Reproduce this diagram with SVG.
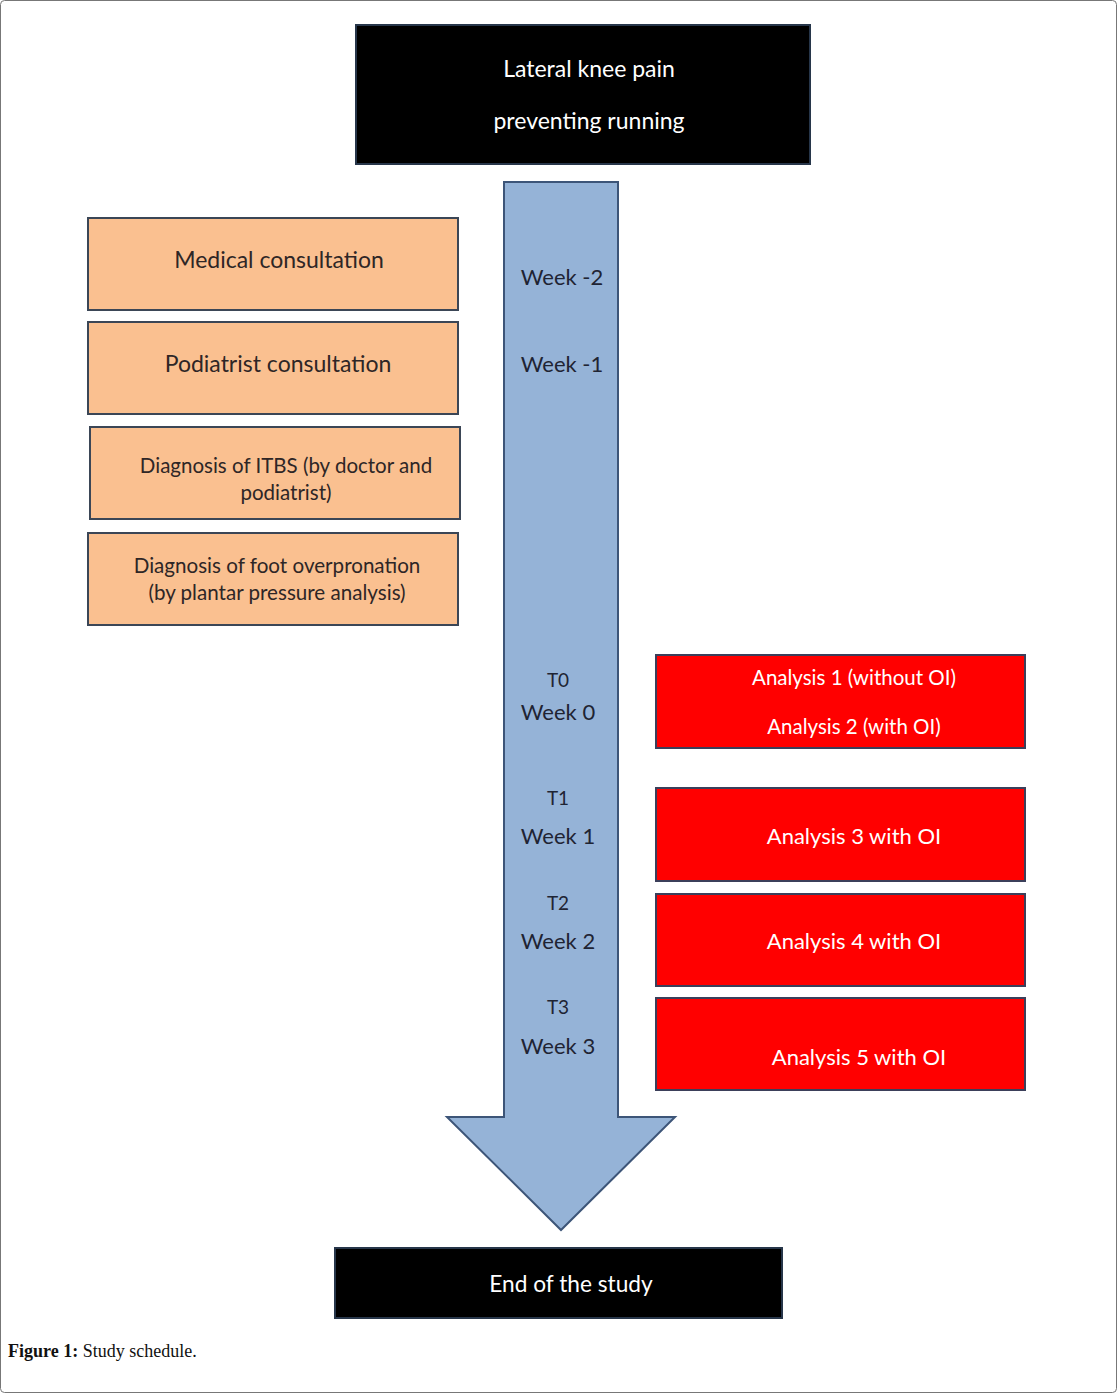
<svg xmlns="http://www.w3.org/2000/svg" width="1117" height="1394" viewBox="0 0 1117 1394">
<style>
.blk{fill:#000;stroke:#27364a;stroke-width:2}
.org{fill:#fac090;stroke:#3b4656;stroke-width:2}
.red{fill:#ff0000;stroke:#3b3f5a;stroke-width:2}
.t{font-family:Lato,"Open Sans",sans-serif;text-anchor:middle}
.w{fill:#ffffff}
.d{fill:#2e2626}
.a{fill:#1f2433}
</style>
<rect x="0.5" y="0.5" width="1116" height="1392" rx="4" fill="#fff" stroke="#777" stroke-width="1"/>
<g id="connectors">
<path id="timeline-arrow" d="M504,182 L618,182 L618,1117 L675,1117 L561,1230 L447,1117 L504,1117 Z" fill="#95b3d7" stroke="#3d5578" stroke-width="2"/>
</g>
<g id="start">
<rect class="blk" x="356" y="25" width="454" height="139"/>
<text class="t w" x="589" y="77" font-size="23">Lateral knee pain</text>
<text class="t w" x="589" y="129" font-size="23">preventing running</text>
</g>
<g id="medical">
<rect class="org" x="88" y="218" width="370" height="92"/>
<text class="t d" x="279" y="268" font-size="23">Medical consultation</text>
</g>
<g id="podiatrist">
<rect class="org" x="88" y="322" width="370" height="92"/>
<text class="t d" x="278" y="372" font-size="23">Podiatrist consultation</text>
</g>
<g id="itbs">
<rect class="org" x="90" y="427" width="370" height="92"/>
<text class="t d" x="286" y="473" font-size="20.5">Diagnosis of ITBS (by doctor and</text>
<text class="t d" x="286" y="500" font-size="20.5">podiatrist)</text>
</g>
<g id="overpronation">
<rect class="org" x="88" y="533" width="370" height="92"/>
<text class="t d" x="277" y="573" font-size="20.6">Diagnosis of foot overpronation</text>
<text class="t d" x="277" y="600" font-size="20.6">(by plantar pressure analysis)</text>
</g>
<g id="timeline-labels">
<text class="t a" x="562" y="285" font-size="22">Week -2</text>
<text class="t a" x="562" y="372" font-size="22">Week -1</text>
<text class="t a" x="558" y="687" font-size="19">T0</text>
<text class="t a" x="558" y="720" font-size="22">Week 0</text>
<text class="t a" x="558" y="805" font-size="19">T1</text>
<text class="t a" x="558" y="844" font-size="22">Week 1</text>
<text class="t a" x="558" y="910" font-size="19">T2</text>
<text class="t a" x="558" y="949" font-size="22">Week 2</text>
<text class="t a" x="558" y="1014" font-size="19">T3</text>
<text class="t a" x="558" y="1054" font-size="22">Week 3</text>
</g>
<g id="analysis12">
<rect class="red" x="656" y="655" width="369" height="93"/>
<text class="t w" x="854" y="685" font-size="20.5">Analysis 1 (without OI)</text>
<text class="t w" x="854" y="734" font-size="20.5">Analysis 2 (with OI)</text>
</g>
<g id="analysis3">
<rect class="red" x="656" y="788" width="369" height="93"/>
<text class="t w" x="854" y="844" font-size="22">Analysis 3 with OI</text>
</g>
<g id="analysis4">
<rect class="red" x="656" y="894" width="369" height="92"/>
<text class="t w" x="854" y="949" font-size="22">Analysis 4 with OI</text>
</g>
<g id="analysis5">
<rect class="red" x="656" y="998" width="369" height="92"/>
<text class="t w" x="859" y="1065" font-size="22">Analysis 5 with OI</text>
</g>
<g id="end">
<rect class="blk" x="335" y="1248" width="447" height="70"/>
<text class="t w" x="571" y="1292" font-size="22.7">End of the study</text>
</g>
<text x="8" y="1357" font-family="'Liberation Serif',serif" font-size="18" fill="#111"><tspan font-weight="bold">Figure 1:</tspan> Study schedule.</text>
</svg>
